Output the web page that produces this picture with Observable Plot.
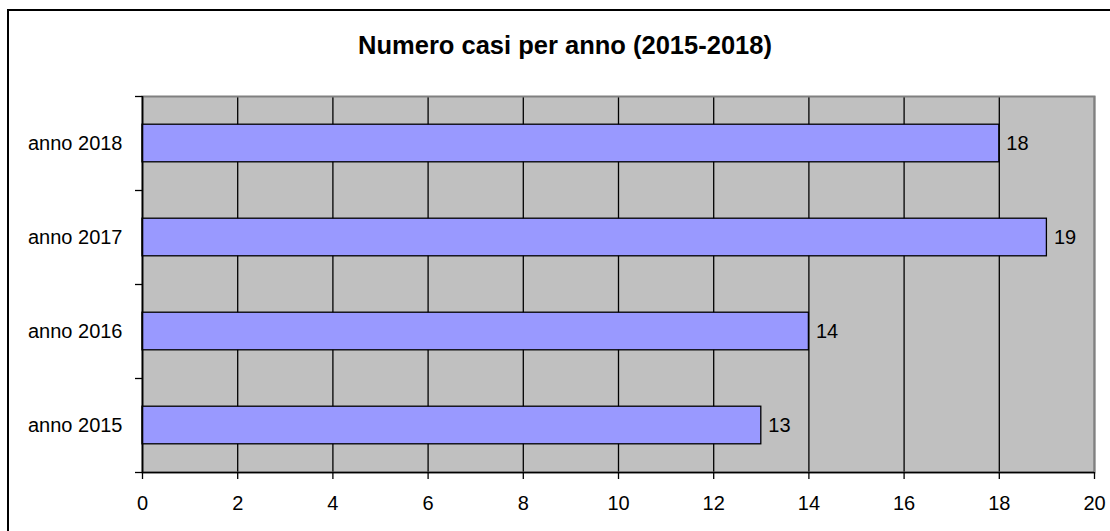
<!DOCTYPE html>
<html>
<head>
<meta charset="utf-8">
<script src="https://cdn.jsdelivr.net/npm/d3@7"></script>
<script src="https://cdn.jsdelivr.net/npm/@observablehq/plot@0.6"></script>
<style>
  html, body { margin: 0; padding: 0; background: #fff; overflow: hidden; width: 1110px; height: 531px; }
  #box { position: absolute; left: 7px; top: 9px; width: 1103px; height: 522px; border-left: 2px solid #000; border-top: 2px solid #000; box-sizing: border-box; }
  #title { position: absolute; left: 0; top: 33px; width: 1130px; text-align: center;
           font: bold 25.5px "Liberation Sans", Arial, sans-serif; line-height: 25px; color: #000; }
  #chart { position: absolute; left: 0; top: 0; }
</style>
</head>
<body>
<div id="box"></div>
<div id="title">Numero casi per anno (2015-2018)</div>
<div id="chart"></div>
<script>
const years = ["anno 2015", "anno 2016", "anno 2017", "anno 2018"];
const cases = [13, 14, 19, 18];
const xTicks = [0, 2, 4, 6, 8, 10, 12, 14, 16, 18, 20];

const data = years.map((year, i) => ({year, i, value: cases[i]}));
const boundaries = d3.range(years.length + 1);
const centers = years.map((_, i) => i + 0.5);

const chart = Plot.plot({
  width: 1110,
  height: 531,
  marginLeft: 142,
  marginRight: 16,
  marginTop: 96,
  marginBottom: 59,
  x: {domain: [0, 20], axis: null},
  y: {domain: [0, years.length], axis: null},
  style: {fontFamily: "'Liberation Sans', Arial, sans-serif", fontSize: "20px", background: "transparent", color: "black"},
  marks: [
    Plot.frame({fill: "#c0c0c0", stroke: null}),
    Plot.gridX(xTicks, {stroke: "black", strokeOpacity: 1, strokeWidth: 1.3}),
    Plot.frame({stroke: "#808080", strokeWidth: 2}),
    Plot.rectX(data, {x1: 0, x2: "value", y1: d => d.i + 0.3, y2: d => d.i + 0.7,
      fill: "#9999ff", stroke: "black", strokeWidth: 1.3}),
    Plot.text(data, {x: "value", y: d => d.i + 0.5, text: d => String(d.value),
      dx: 7, textAnchor: "start", fontSize: 20, fill: "black"}),
    Plot.axisX(xTicks, {tickSize: 7, tickPadding: 16, fontSize: 20, label: null, tickFormat: d => String(d), strokeWidth: 1.3}),
    Plot.axisY(boundaries, {tickSize: 7, tickFormat: () => "", label: null, strokeWidth: 1.3}),
    Plot.axisY(centers, {tickSize: 0, tickPadding: 20, fontSize: 20, label: null,
      tickFormat: d => years[Math.floor(d)]}),
    Plot.ruleX([0], {stroke: "black", strokeWidth: 1.6}),
    Plot.ruleY([0], {stroke: "black", strokeWidth: 1.6})
  ]
});
document.getElementById("chart").appendChild(chart);
</script>
</body>
</html>
